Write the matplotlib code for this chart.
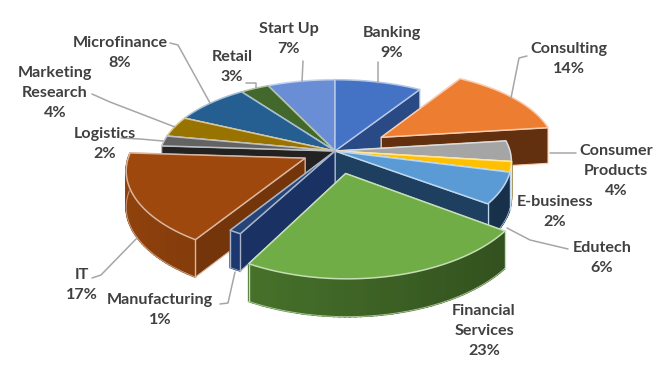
import numpy as np
import matplotlib
matplotlib.use("Agg")
import matplotlib.pyplot as plt
from matplotlib.colors import to_rgb
from matplotlib.patches import Polygon

categories = ["Banking", "Consulting", "Consumer Products", "E-business", "Edutech",
              "Financial Services", "Manufacturing", "IT", "Logistics",
              "Marketing Research", "Microfinance", "Retail", "Start Up"]
values = [9, 14, 4, 2, 6, 23, 1, 17, 2, 4, 8, 3, 7]
explode = [0, .32, 0, 0, 0, .27, 0, .19, 0, 0, 0, 0, 0]
top_colors = ["#4472C4", "#ED7D31", "#A5A5A5", "#FFC000", "#5B9BD5", "#70AD47", "#264478",
              "#9E480E", "#636363", "#997300", "#255E91", "#43682B", "#698ED6"]
wall_colors = ["#2A4A85", "#63300F", "#666666", "#A67C00", "#1F3F60", "#3F6526", "#1A3263",
               "#74350A", "#222222", "#6B5000", "#1A4268", "#2D471D", "#4A6AA5"]
draw_order = [12, 11, 10, 9, 8, 0, 1, 2, 3, 4, 7, 6, 5]

labels = [
    ("Start Up\n7%", 289, 39), ("Banking\n9%", 392, 43), ("Consulting\n14%", 569, 59),
    ("Consumer\nProducts\n4%", 616, 171), ("E-business\n2%", 555, 212), ("Edutech\n6%", 602, 258),
    ("Financial\nServices\n23%", 484, 331), ("Manufacturing\n1%", 160, 310), ("IT\n17%", 82, 285),
    ("Logistics\n2%", 105, 144), ("Marketing\nResearch\n4%", 55, 93), ("Microfinance\n8%", 120, 53),
    ("Retail\n3%", 232, 67),
]
leaders = [
    [(302, 82), (303, 61)], [(378, 83), (378, 62)], [(511, 98), (519, 58), (527, 56)],
    [(550, 153), (576, 153)], [(507, 228), (530, 240), (568, 249)],
    [(235, 272), (228, 303), (220, 304)], [(137, 238), (101, 275), (92, 278)],
    [(163, 141), (140, 139), (121, 138)], [(175, 127), (110, 102), (92, 94)],
    [(210, 103), (178, 45), (170, 43)], [(256, 88), (256, 83), (246, 83)],
]

CX, CY, AX, BY, KX, KY, H = 335, 151, 175, 82, .125, .15, 36


def proj(u, v, z=0.0):
    x = CX + AX * u / (1 + KX * v)
    y = CY - BY * v / (1 + KY * v)
    return x, y + z * H * (1 - .04 * v)


def mix(c, other, t):
    c, o = np.array(to_rgb(c)), np.array(to_rgb(other))
    return tuple(c * (1 - t) + o * t)


fig = plt.figure(figsize=(6.64, 3.66), dpi=100)
ax = fig.add_axes([0, 0, 1, 1])
ax.set_xlim(0, 664)
ax.set_ylim(366, 0)
ax.axis("off")

edges = np.cumsum([0] + values) / sum(values) * 2 * np.pi
zo = 2
for i in draw_order:
    t0, t1 = edges[i], edges[i + 1]
    mid = (t0 + t1) / 2
    du, dv = explode[i] * np.sin(mid), explode[i] * np.cos(mid)
    th = np.linspace(t0, t1, max(6, int((t1 - t0) * 40)))
    us, vs = np.sin(th) + du, np.cos(th) + dv
    wall, top = wall_colors[i], top_colors[i]
    line = mix(top, "white", .6)

    # cut faces, back one first
    faces = []
    for t in (t0, t1):
        ru, rv = np.sin(t) + du, np.cos(t) + dv
        faces.append((rv + dv, ru, rv))
    faces.sort(key=lambda f: -f[0])
    for _, ru, rv in faces:
        pts = [proj(du, dv), proj(ru, rv), proj(ru, rv, 1), proj(du, dv, 1)]
        ax.add_patch(Polygon(pts, closed=True, fc=wall, ec=line, lw=.8, zorder=zo, joinstyle="round"))
        zo += 1

    # curved outer wall, only the part that faces the viewer
    front = np.cos(th) < .05
    for k in range(len(th) - 1):
        if not (front[k] or front[k + 1]):
            continue
        f = 1 - .25 * np.sin((th[k] + th[k + 1]) / 2)
        col = tuple(np.clip(np.array(to_rgb(wall)) * f, 0, 1))
        pts = [proj(us[k], vs[k]), proj(us[k + 1], vs[k + 1]),
               proj(us[k + 1], vs[k + 1], 1), proj(us[k], vs[k], 1)]
        ax.add_patch(Polygon(pts, closed=True, fc=col, ec=col, lw=1.2, zorder=zo))
    zo += 1
    if front.any():
        bx, by = zip(*[proj(a, b, 1) for a, b in zip(us[front], vs[front])])
        ax.plot(bx, by, color=line, lw=.7, zorder=zo, alpha=.8)
    for t in (t0, t1):
        ru, rv = np.sin(t) + du, np.cos(t) + dv
        if rv < 0:
            ax.plot(*zip(proj(ru, rv), proj(ru, rv, 1)), color=line, lw=1.0, zorder=zo)
    zo += 1

    # top surface
    pts = [proj(du, dv)] + [proj(a, b) for a, b in zip(us, vs)]
    ax.add_patch(Polygon(pts, closed=True, fc=top, ec=line, lw=1.1, zorder=zo, joinstyle="round"))
    zo += 1

for path in leaders:
    ax.plot(*zip(*path), color="#A6A6A6", lw=1.1, zorder=zo, solid_capstyle="round")
for text, x, y in labels:
    ax.text(x, y, text, ha="center", va="center", family="Lato", fontweight="bold",
            fontsize=11.6, color="#404040", linespacing=1.55, zorder=zo + 1)

fig.savefig("out.png", dpi=100, facecolor="white")
